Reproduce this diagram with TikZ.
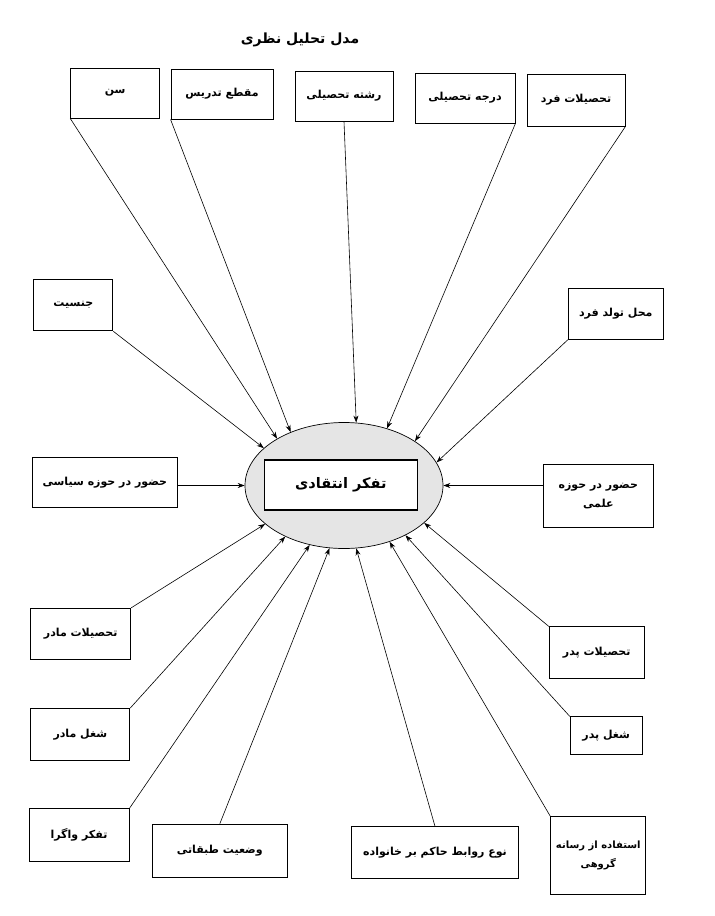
\documentclass[tikz,border=0pt]{standalone}
\usepackage{fontspec}
\newfontfamily\farsi[Script=Arabic]{DejaVu Sans}
\TeXXeTstate=1
\usetikzlibrary{arrows.meta,shapes.geometric,calc}
\newcommand\fatext[1]{\beginR #1\endR}
\begin{document}
\begin{tikzpicture}[x=1pt,y=-1pt,
  box/.style={draw, line width=0.9pt, rectangle, inner sep=0pt, align=center,
    font=\farsi\bfseries\fontsize{11}{19}\selectfont},
  sz/.style 2 args={minimum width=#1pt, minimum height=#2pt},
  arr/.style={line width=0.6pt, -{Stealth[length=7pt,width=5pt]}},
]
\useasboundingbox (0,0) rectangle (715,916);
\node[font=\farsi\bfseries\fontsize{14}{16}\selectfont] (title) at (300,40) {\fatext{مدل تحلیل نظری}};

\node[ellipse, draw, line width=0.7pt, fill=black!10, minimum width=198pt, minimum height=126pt, inner sep=0pt] (ell) at (344,485.5) {};
\node[draw, line width=1.2pt, fill=white, minimum width=153pt, minimum height=50pt, inner sep=0pt,
  font=\farsi\bfseries\fontsize{14.5}{17}\selectfont] (core) at (340.8,485) {\fatext{تفکر انتقادی}};

\node[box, sz={89}{50}] (sen) at (115.2,93) {\fatext{سن}};
\node[box, sz={102}{50}] (maqta) at (222,94) {\fatext{مقطع تدریس}};
\node[box, sz={98}{50}] (reshte) at (344,96) {\fatext{رشته تحصیلی}};
\node[box, sz={100}{50}] (daraje) at (465,98) {\fatext{درجه تحصیلی}};
\node[box, sz={98}{52}] (tahsil) at (576,100) {\fatext{تحصیلات فرد}};
\node[box, sz={79}{51}] (jens) at (73.3,305.3) {\fatext{جنسیت}};
\node[box, sz={95}{51}] (mahal) at (615.8,313.8) {\fatext{محل تولد فرد}};
\node[box, sz={145}{50}] (siasi) at (104.8,482.3) {\fatext{حضور در حوزه سیاسی}};
\node[box, sz={110}{63}] (elmi) at (598.3,495.8) {\fatext{حضور در حوزه}\\\fatext{علمی}};
\node[box, sz={100}{51}] (madarT) at (80.7,633.8) {\fatext{تحصیلات مادر}};
\node[box, sz={99}{52}] (madarS) at (80.3,734.5) {\fatext{شغل مادر}};
\node[box, sz={100}{53}] (vagera) at (79,835.3) {\fatext{تفکر واگرا}};
\node[box, sz={135}{53}] (tabaqe) at (219.8,850.7) {\fatext{وضعیت طبقاتی}};
\node[box, sz={167}{52}] (ravabet) at (435,852.8) {\fatext{نوع روابط حاکم بر خانواده}};
\node[box, sz={95}{78}, font=\farsi\bfseries\fontsize{10}{19}\selectfont] (resane) at (598.3,855.8) {\fatext{استفاده از رسانه}\\\fatext{گروهی}};
\node[box, sz={95}{52}] (pedarT) at (596.7,652.8) {\fatext{تحصیلات پدر}};
\node[box, sz={72}{38}] (pedarS) at (606.2,735.8) {\fatext{شغل پدر}};

\draw[arr] (sen.south west) -- (ell.145.9);
\draw[arr] (maqta.south west) -- (ell.135.3);
\draw[arr] (reshte.south) -- (ell.79.3);
\draw[arr] (daraje.south east) -- (ell.53.8);
\draw[arr] (tahsil.south east) -- (ell.32.6);
\draw[arr] (jens.south east) -- (ell.155.5);
\draw[arr] (mahal.south west) -- (ell.14.7);
\draw[arr] (siasi.east |- ell.west) -- (ell.west);
\draw[arr] (elmi.west |- ell.east) -- (ell.east);
\draw[arr] (madarT.north east) -- (ell.206.3);
\draw[arr] (madarS.north east) -- (ell.221.9);
\draw[arr] (vagera.north east) -- (ell.240.3);
\draw[arr] (tabaqe.north) -- (ell.257.4);
\draw[arr] (ravabet.north) -- (ell.281.5);
\draw[arr] (resane.north west) -- (ell.309);
\draw[arr] (pedarS.north west) -- (ell.321);
\draw[arr] (pedarT.north west) -- (ell.335.8);
\end{tikzpicture}
\end{document}
